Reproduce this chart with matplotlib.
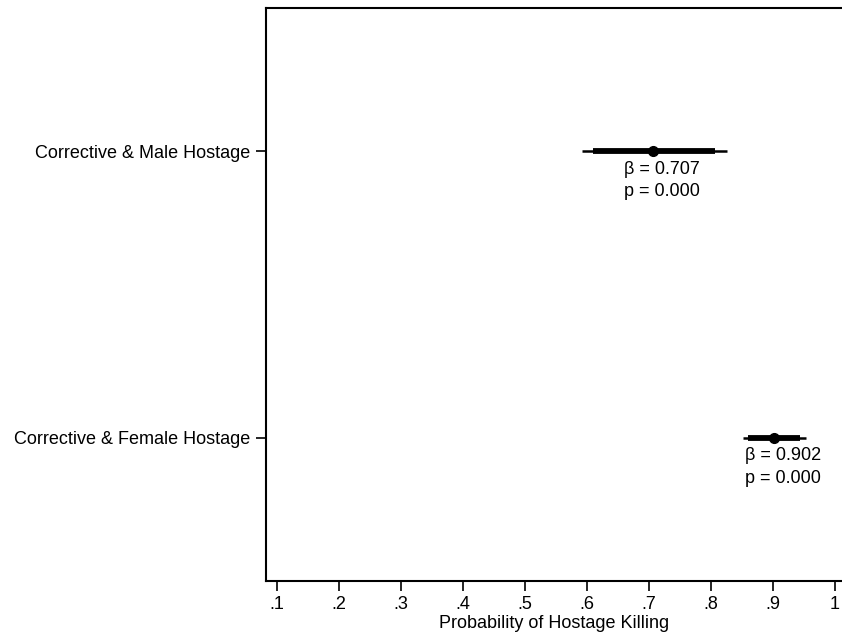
import matplotlib
matplotlib.use("Agg")
import matplotlib.pyplot as plt

# -------------------------------
# DATA
# -------------------------------
labels = ["Corrective & Male Hostage", "Corrective & Female Hostage"]
estimates = [0.707, 0.902]
ci95_low = [0.592, 0.852]
ci95_high = [0.826, 0.953]
ci90_low = [0.610, 0.860]
ci90_high = [0.806, 0.944]
pvalues = [0.000, 0.000]
xticks = [0.1, 0.2, 0.3, 0.4, 0.5, 0.6, 0.7, 0.8, 0.9, 1.0]
xticklabels = [".1", ".2", ".3", ".4", ".5", ".6", ".7", ".8", ".9", "1"]

plt.rcParams["font.family"] = ["Liberation Sans", "DejaVu Sans"]

# -------------------------------
# FIGURE
# -------------------------------
fig = plt.figure(figsize=(8.42, 6.39), dpi=100)
ax = fig.add_axes([266 / 842, 1 - 581 / 639, 1 - 266 / 842, (581 - 8) / 639])

ypos = list(range(1, len(labels) + 1))

for y, est, lo95, hi95, lo90, hi90, p in zip(ypos, estimates, ci95_low, ci95_high,
                                              ci90_low, ci90_high, pvalues):
    ax.plot([lo95, hi95], [y, y], color="black", lw=1.8, solid_capstyle="butt")
    ax.plot([lo90, hi90], [y, y], color="black", lw=4.2, solid_capstyle="butt")
    ax.plot(est, y, "o", color="black", ms=7)
    ax.annotate(f"β = {est:.3f}\np = {p:.3f}", (est, y), xytext=(6, -7),
                textcoords="offset points", ha="center", va="top",
                fontsize=13, linespacing=1.4)

ax.set_xlim(0.1 - 11 / 620, 0.1 + 565 / 620)
ax.set_ylim(len(labels) + 0.5, 0.5)

ax.set_yticks(ypos)
ax.set_yticklabels(labels, fontsize=13)
ax.set_xticks(xticks)
ax.set_xticklabels(xticklabels, fontsize=13)
ax.tick_params(axis="both", direction="out", length=7, width=1.2, pad=4)
ax.set_xlabel("Probability of Hostage Killing", fontsize=13, labelpad=1)

ax.spines["right"].set_visible(False)
for s in ["left", "bottom", "top"]:
    ax.spines[s].set_linewidth(1.5)

fig.savefig("out.png", dpi=100)
